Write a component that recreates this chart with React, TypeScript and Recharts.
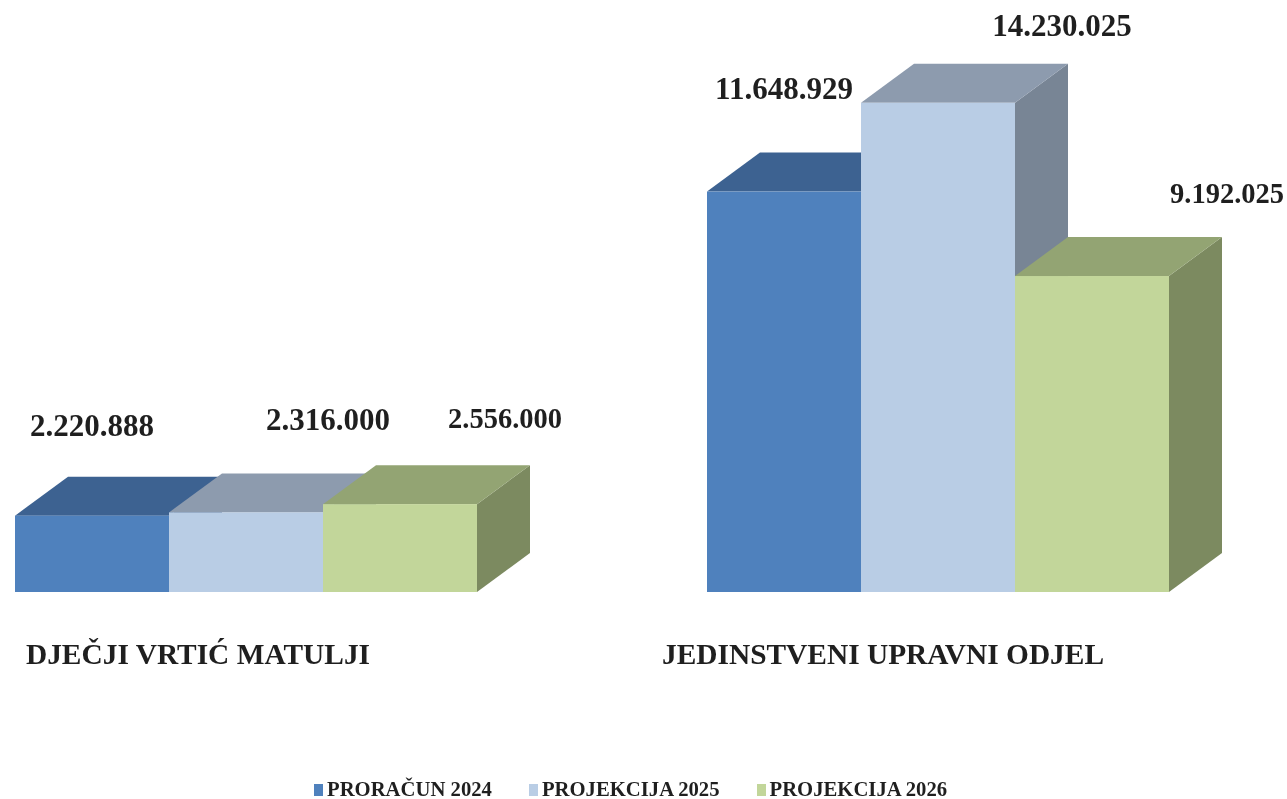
import React from "react";
import { BarChart, Bar, XAxis, YAxis, Legend, LabelList } from "recharts";

const categories = ["DJEČJI VRTIĆ MATULJI", "JEDINSTVENI UPRAVNI ODJEL"];
const proracun2024 = [2220888, 11648929];
const projekcija2025 = [2316000, 14230025];
const projekcija2026 = [2556000, 9192025];

const chartData = categories.map((name, i) => ({
  name,
  proracun: proracun2024[i],
  p2025: projekcija2025[i],
  p2026: projekcija2026[i],
}));

const DEPTH_X = 53;
const DEPTH_Y = 39;
const SERIF = "'Liberation Serif', serif";
const INK = "#1f1f1f";

const colors = {
  blue: { front: "#4F81BD", top: "#3D6291", side: "#3A5C85" },
  light: { front: "#B9CDE5", top: "#8D9BAE", side: "#788595" },
  green: { front: "#C2D69A", top: "#93A473", side: "#7C8A60" },
};

// label tweaks per bar: dx from bar centre, baseline y above the 3d top, font size
const blueLabels = [
  { dx: 0, dy: 80, size: 31 },
  { dx: 0, dy: 93, size: 31 },
];
const lightLabels = [
  { dx: 82, dy: 82, size: 31 },
  { dx: 124, dy: 67, size: 31 },
];
const greenLabels = [
  { dx: 105, dy: 76, size: 28.5 },
  { dx: 135, dy: 73, size: 28.5 },
];

const tickShift = [-48, -55];

function Box3D(props: any) {
  const { x, y, width, height, palette } = props;
  const d = DEPTH_X;
  const e = DEPTH_Y;
  return (
    <g>
      <polygon
        points={`${x + width},${y} ${x + width + d},${y - e} ${x + width + d},${y + height - e} ${x + width},${y + height}`}
        fill={palette.side}
      />
      <polygon
        points={`${x},${y} ${x + d},${y - e} ${x + width + d},${y - e} ${x + width},${y}`}
        fill={palette.top}
      />
      <rect x={x} y={y} width={width} height={height} fill={palette.front} />
    </g>
  );
}

function makeLabel(tweaks: { dx: number; dy: number; size: number }[]) {
  return (props: any) => {
    const { x, y, width, value, index } = props;
    const t = tweaks[index];
    return (
      <text
        x={x + width / 2 + t.dx}
        y={y - t.dy}
        textAnchor="middle"
        fontFamily={SERIF}
        fontWeight="bold"
        fontSize={t.size}
        fill={INK}
      >
        {Number(value).toLocaleString("de-DE")}
      </text>
    );
  };
}

function CategoryTick(props: any) {
  const { x, y, payload, index } = props;
  return (
    <text
      x={x + tickShift[index]}
      y={y + 64}
      textAnchor="middle"
      fontFamily={SERIF}
      fontWeight="bold"
      fontSize={29.4}
      fill={INK}
    >
      {payload.value}
    </text>
  );
}

function LegendRow(props: any) {
  const { payload } = props;
  return (
    <div style={{ display: "flex", fontFamily: SERIF, fontWeight: "bold", fontSize: 20.7, color: INK }}>
      {(payload || []).map((item: any) => (
        <div key={item.value} style={{ display: "flex", alignItems: "center", marginRight: 37 }}>
          <span style={{ width: 9, height: 12, background: item.color, marginRight: 4 }} />
          <span style={{ whiteSpace: "nowrap" }}>{item.value}</span>
        </div>
      ))}
    </div>
  );
}

export default function App() {
  return (
    <div
      style={{
        position: "absolute",
        left: -100,
        top: 0,
        width: 1387,
        height: 799,
        overflow: "hidden",
        filter: "blur(0.4px)",
      }}
    >
      <BarChart
        width={1387}
        height={799}
        data={chartData}
        barCategoryGap={115}
        barGap={0}
        margin={{ top: 42, right: 3, left: 0, bottom: 103 }}
      >
        <XAxis dataKey="name" height={80} axisLine={false} tickLine={false} interval={0} tick={<CategoryTick />} />
        <YAxis hide domain={[0, 16000000]} />
        <Legend
          content={<LegendRow />}
          itemSorter={null}
          wrapperStyle={{ position: "absolute", left: 414, top: 778, width: 760, height: 24 }}
        />
        <Bar
          dataKey="proracun"
          name="PRORAČUN 2024"
          fill={colors.blue.front}
          isAnimationActive={false}
          shape={<Box3D palette={colors.blue} />}
        >
          <LabelList dataKey="proracun" content={makeLabel(blueLabels)} />
        </Bar>
        <Bar
          dataKey="p2025"
          name="PROJEKCIJA 2025"
          fill={colors.light.front}
          isAnimationActive={false}
          shape={<Box3D palette={colors.light} />}
        >
          <LabelList dataKey="p2025" content={makeLabel(lightLabels)} />
        </Bar>
        <Bar
          dataKey="p2026"
          name="PROJEKCIJA 2026"
          fill={colors.green.front}
          isAnimationActive={false}
          shape={<Box3D palette={colors.green} />}
        >
          <LabelList dataKey="p2026" content={makeLabel(greenLabels)} />
        </Bar>
      </BarChart>
    </div>
  );
}
